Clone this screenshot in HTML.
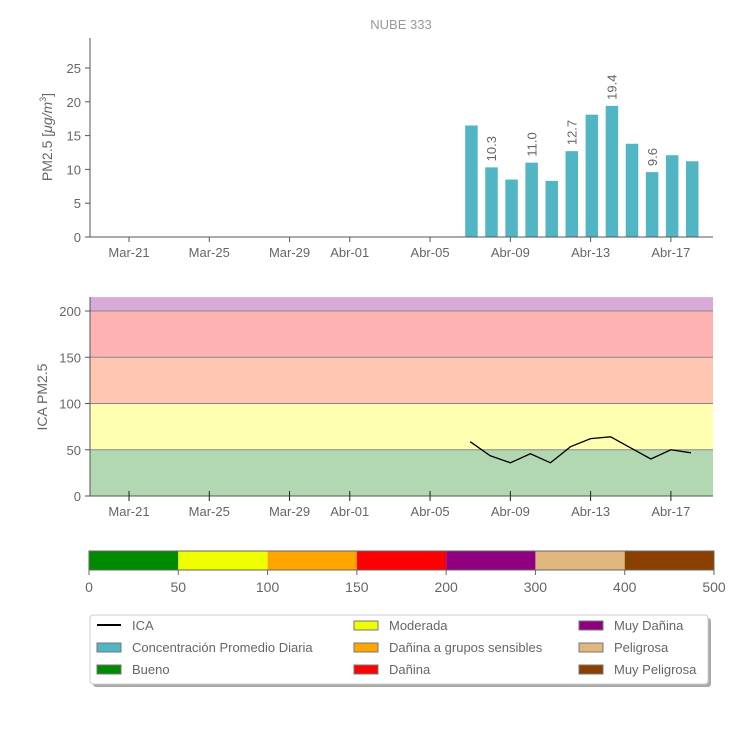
<!DOCTYPE html>
<html><head><meta charset="utf-8"><style>
html,body{margin:0;padding:0;background:#fff}
svg{display:block;font-family:"Liberation Sans",sans-serif}
text{fill:#666}
</style></head><body>
<svg id="s" width="750" height="750" viewBox="0 0 750 750">
<text x="401" y="29" font-size="13" text-anchor="middle" style="fill:#999">NUBE 333</text>
<g id="top"></g>
<g id="bot"></g>
<g id="cbar"></g>
<g id="leg"></g>
</svg>
<script>
const tickDays=[0,4,8,11,15,19,23,27];
const tickLabels=["Mar-21","Mar-25","Mar-29","Abr-01","Abr-05","Abr-09","Abr-13","Abr-17"];
const barDays=[17,18,19,20,21,22,23,24,25,26,27,28];
const pmValues=[16.5,10.3,8.5,11.0,8.3,12.7,18.1,19.4,13.8,9.6,12.1,11.2];
const pmLabelIdx=[1,3,5,7,9];
const icaValues=[58.7,43.5,35.9,45.7,35.9,53.3,62,64,52,40,50,46.7];
const pmTicks=[0,5,10,15,20,25];
const icaTicks=[0,50,100,150,200];
const bandLimits=[0,50,100,150,200,215];
const bandColors=["#b2d8b2","#ffffb2","#ffc6b2","#ffb2b2","#d8aad8"];
const cbarVals=[0,50,100,150,200,300,400,500];
const cbarColors=["#008a00","#f0ff00","#ffa500","#ff0000","#8f0080","#dfb77f","#8a4100"];

const NS="http://www.w3.org/2000/svg";
function mk(p,t,a){const e=document.createElementNS(NS,t);for(const k in a)e.setAttribute(k,a[k]);p.appendChild(e);return e;}
const X=d=>129+d*20.07;
const L=90,R=713;
// top chart
const gTop=document.getElementById('top');
const Y1=v=>237-v*6.76;
barDays.forEach((d,i)=>{
 const r=mk(gTop,'rect',{x:X(d)-5,y:Y1(pmValues[i]),width:12.5,height:Y1(0)-Y1(pmValues[i]),fill:'#52b5c3'});
 
 
});
pmLabelIdx.forEach(i=>{
 const x=X(barDays[i])+6,y=Y1(pmValues[i])-6;
 const t=mk(gTop,'text',{x:x,y:y,'font-size':13,transform:`rotate(-90 ${x} ${y})`});
 t.textContent=pmValues[i].toFixed(1);
 
 
});
mk(gTop,'line',{x1:L,y1:38,x2:L,y2:237,stroke:'#555'});
mk(gTop,'line',{x1:L,y1:237,x2:R,y2:237,stroke:'#555'});
pmTicks.forEach(v=>{
 mk(gTop,'line',{x1:L-5,y1:Y1(v),x2:L,y2:Y1(v),stroke:'#555'});
 const t=mk(gTop,'text',{x:L-9,y:Y1(v)+5,'font-size':13,'text-anchor':'end'});t.textContent=v;
 
 
});
tickDays.forEach((d,i)=>{
 mk(gTop,'line',{x1:X(d),y1:237,x2:X(d),y2:242,stroke:'#555'});
 const t=mk(gTop,'text',{x:X(d),y:257,'font-size':13,'text-anchor':'middle'});t.textContent=tickLabels[i];
 
 
});
{const t=mk(gTop,'text',{x:52,y:137,'font-size':14,'text-anchor':'middle',transform:'rotate(-90 52 137)'});
t.innerHTML='PM2.5 [<tspan font-style="italic">μg/m</tspan><tspan font-size="9" dy="-6">3</tspan><tspan dy="6">]</tspan>';

}
// bottom chart
const gBot=document.getElementById('bot');
const Y2=v=>496-v*0.925;
for(let i=0;i<bandColors.length;i++){
 const r=mk(gBot,'rect',{x:L,y:Y2(bandLimits[i+1]),width:R-L,height:Y2(bandLimits[i])-Y2(bandLimits[i+1]),fill:bandColors[i]});
 
 
 if(i>0) mk(gBot,'line',{x1:L,y1:Y2(bandLimits[i]),x2:R,y2:Y2(bandLimits[i]),stroke:'#888','stroke-width':1});
}
{const pl=mk(gBot,'polyline',{points:barDays.map((d,i)=>X(d)+','+Y2(icaValues[i])).join(' '),fill:'none',stroke:'#000','stroke-width':1.3});

}
mk(gBot,'line',{x1:L,y1:297,x2:L,y2:496,stroke:'#555'});
mk(gBot,'line',{x1:L,y1:496,x2:R,y2:496,stroke:'#555'});
icaTicks.forEach(v=>{
 mk(gBot,'line',{x1:L-5,y1:Y2(v),x2:L,y2:Y2(v),stroke:'#555'});
 const t=mk(gBot,'text',{x:L-9,y:Y2(v)+5,'font-size':13,'text-anchor':'end'});t.textContent=v;
 
 
});
tickDays.forEach((d,i)=>{
 mk(gBot,'line',{x1:X(d),y1:491,x2:X(d),y2:501,stroke:'#222'});
 const t=mk(gBot,'text',{x:X(d),y:516,'font-size':13,'text-anchor':'middle'});t.textContent=tickLabels[i];
 
 
});
{const t=mk(gBot,'text',{x:47,y:397,'font-size':14,'text-anchor':'middle',transform:'rotate(-90 47 397)'});t.textContent='ICA PM2.5';

}
// colorbar
const cb=document.getElementById('cbar');
const segW=(714-89)/cbarColors.length;
cbarColors.forEach((c,i)=>{
 const r=mk(cb,'rect',{x:89+i*segW,y:551,width:segW,height:19,fill:c});
 
 
});
mk(cb,'rect',{x:89,y:551,width:625,height:19,fill:'none',stroke:'#666'});
cbarVals.forEach((v,i)=>{
 const x=89+i*segW;
 mk(cb,'line',{x1:x,y1:570,x2:x,y2:575,stroke:'#666'});
 const t=mk(cb,'text',{x:x,y:592,'font-size':14,'text-anchor':'middle'});t.textContent=v;
 
 
});
// legend
const lg=document.getElementById('leg');
mk(lg,'rect',{x:93,y:618,width:618,height:69,rx:3,fill:'#aaa'});
mk(lg,'rect',{x:90,y:615,width:618,height:69,rx:3,fill:'#fff',stroke:'#ccc'});
const items=[["ICA",null,95,625],["Concentración Promedio Diaria","#52b5c3",95,647],["Bueno","#008a00",95,669],
["Moderada","#f0ff00",352,625],["Dañina a grupos sensibles","#ffa500",352,647],["Dañina","#ff0000",352,669],
["Muy Dañina","#8f0080",577,625],["Peligrosa","#dfb77f",577,647],["Muy Peligrosa","#8a4100",577,669]];
items.forEach(it=>{
 const g=mk(lg,'g',{});
 
 
 if(it[1]) mk(g,'rect',{x:it[2]+2,y:it[3]-4,width:24,height:9,fill:it[1],stroke:'#777'});
 else mk(g,'line',{x1:it[2]+2,y1:it[3],x2:it[2]+26,y2:it[3],stroke:'#000','stroke-width':2});
 const t=mk(g,'text',{x:it[2]+37,y:it[3]+5,'font-size':13});t.textContent=it[0];
});
</script>
</body></html>
